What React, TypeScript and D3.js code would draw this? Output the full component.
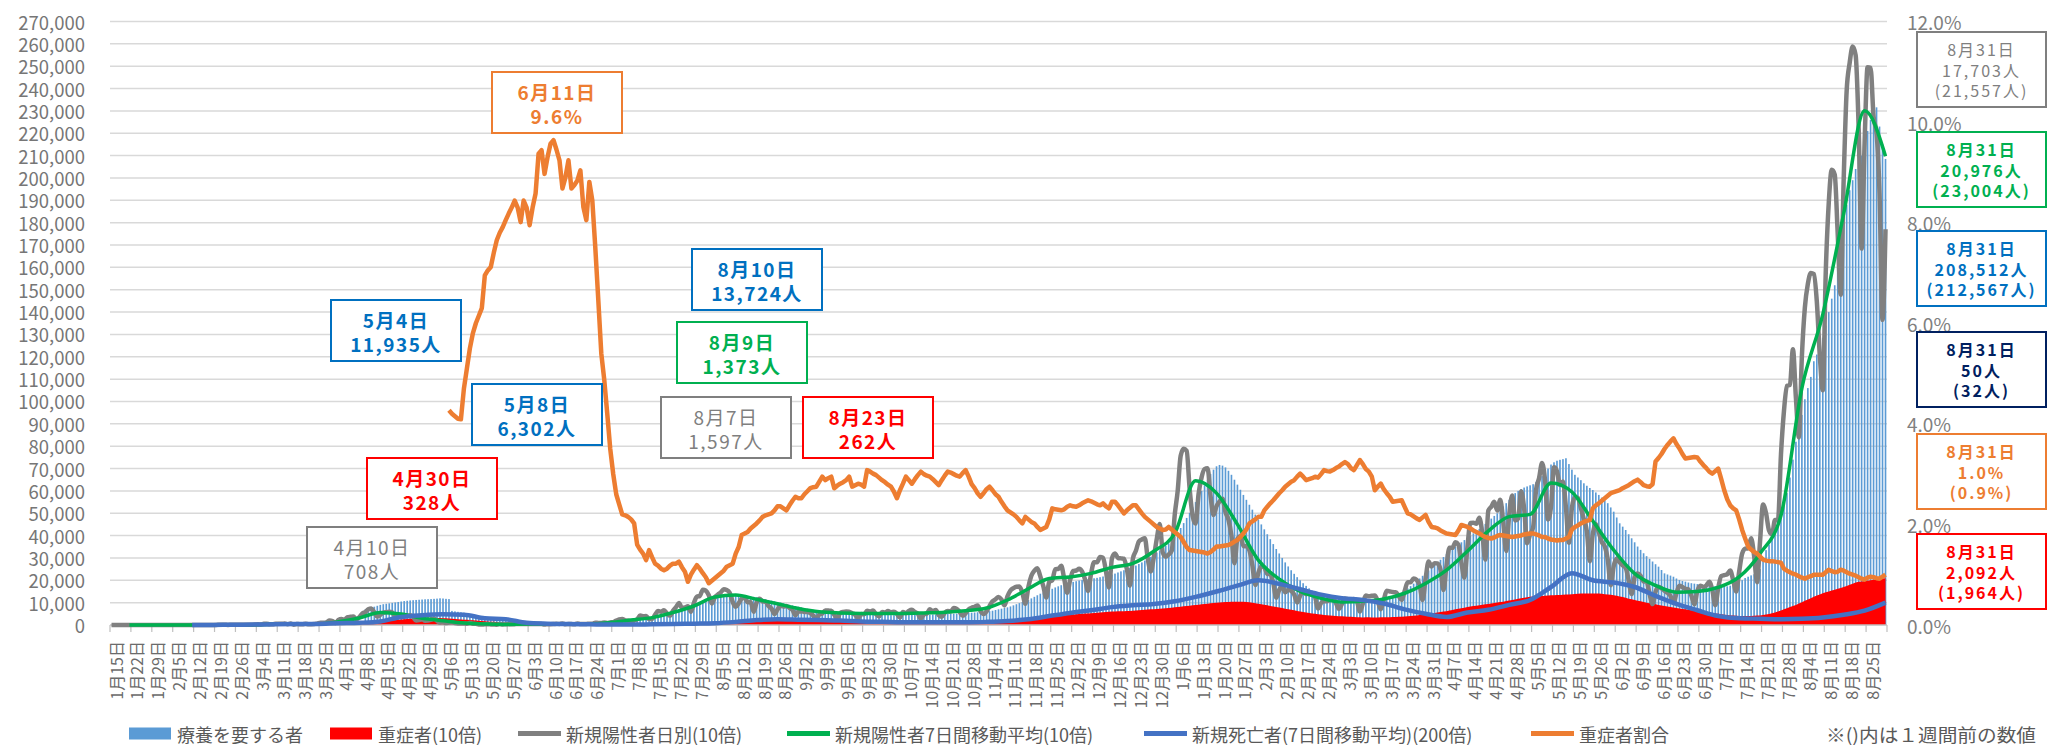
import * as d3 from "d3";

// ---- data ----
const parse = d3.timeParse("%Y-%m-%d");

// daily new positives (actual count, drawn x10), one row per week, Wed..Tue, from 2020-01-15
const newCasesStart = "2020-01-15";
const newCases = [
  [1,0,0,0,1,0,0],[0,1,1,0,0,0,0],[3,2,3,5,0,0,0],[0,0,0,0,0,0,0],[1,4,4,1,3,3,4],
  [3,9,11,9,4,7,10],[11,16,10,13,12,14,17],[33,23,51,57,35,32,52],[54,54,62,38,63,15,44],[37,39,53,34,35,40,71],
  [97,97,123,200,173,87,225],[266,240,350,365,380,252,351],[515,576,708,743,566,375,458],[549,576,590,568,374,386,378],[430,410,436,352,201,216,258],
  [192,197,234,290,183,114,123],[85,110,120,82,66,65,72],[55,100,60,50,25,21,30],[31,26,20,15,43,22,33],[39,30,36,45,42,47,50],
  [41,50,45,42,47,17,37],[37,43,54,47,71,34,44],[41,35,69,48,44,48,58],[55,105,91,92,117,86,116],[131,196,249,270,205,188,170],
  [208,250,430,387,408,264,262],[450,622,590,663,510,420,631],[795,980,768,780,840,595,983],[1264,1301,1580,1536,1331,959,1236],[1357,1453,1597,1566,1441,1032,812],
  [969,1174,1227,1014,1030,588,1004],[1177,1054,1039,845,734,498,694],[863,831,850,765,677,437,600],[607,587,587,535,416,268,473],[514,651,644,641,460,280,545],
  [585,601,598,523,463,299,490],[479,639,602,644,483,381,579],[558,621,570,593,495,332,581],[520,633,680,583,505,287,474],[513,701,611,676,441,371,542],
  [624,603,757,715,586,413,527],[702,773,817,878,614,487,605],[842,1061,1151,1257,1140,874,1277],[1544,1651,1715,1724,1438,953,1698],[2199,2425,2540,2177,1737,1226,1937],
  [1999,2500,2505,2653,2072,1440,2024],[2418,2439,2513,2391,2030,1523,2301],[2812,2812,3041,3009,2389,1678,2988],[3203,2998,2980,2963,2482,1757,2972],[3319,3734,3828,3880,2944,2395,3030],
  [3852,4520,3243,3059,3158,3325,4916],[6001,7570,7882,7790,6095,4875,4538],[5866,6605,6970,7012,5768,4925,5320],[5526,5652,5046,4714,3990,2763,3852],[3971,3534,3520,3344,2673,1792,2324],
  [2631,2576,2289,2268,1891,1220,1569],[1718,1464,1575,1531,1361,1010,1308],[1523,1380,1412,1376,1236,740,981],[1063,1064,1126,1181,980,718,944],[1182,1151,1118,1162,1066,600,960],
  [1316,1289,1307,1320,1065,700,1123],[1532,1501,1471,1469,1302,1116,1519],[1918,1915,2083,2017,1785,1116,2067],[2843,2616,2761,2757,2471,1571,2651],[3453,3451,3697,3591,2779,2120,3455],
  [4568,4573,4532,4802,4093,2925,5113],[5292,5513,5120,5606,4608,3314,4929],[5791,4677,4761,5979,5211,3659,4052],[4361,6054,6567,7244,6472,4725,5290],[7057,6878,6266,6419,5247,3683,5249],
  [5711,5686,5228,4724,4193,2852,4088],[4521,4143,3713,3517,2933,1780,2635],[2960,2795,2668,2552,2005,1381,2133],[2304,2194,1946,1935,1389,934,1486],[1710,1638,1534,1439,1307,981,1424],
  [1755,1703,1618,1597,1313,928,1525],[1754,1705,1767,1932,1576,889,1668],[2185,2230,2270,2442,2005,1497,2387],[3194,3418,3434,3878,3100,1916,3758],[5396,5000,4225,4047,4702,4692,7629],
  [9576,10699,10743,12341,10168,8392,12016],[14207,15263,15753,15699,14472,12061,10500],[15812,18889,20366,20151,17492,14778,19955],[23917,25151,25876,25492,22285,16842,21557],[24956,24929,22748,22000,19296,13653,17703],
];

// people requiring treatment (bars), weekly rows from 2020-04-08
const careStart = "2020-04-08";
const care = [
  [null,7000,7400,7800,8200,8600,9000],[9300,9500,9700,9900,10100,10300,10500],[10700,10850,11000,11100,11200,11300,11400],[11500,11550,11600,11700,11800,11935,11850],
  [11700,11600,6302,6100,5900,5700,5500],[5200,4900,4600,4300,4000,3700,3400],[3200,3000,2800,2600,2400,2300,2200],[2100,2000,1900,1800,1700,1600,1500],
  [1450,1400,1350,1300,1250,1200,1150],[1100,1050,1000,980,960,940,920],[900,890,880,880,890,900,910],[950,1000,1050,1100,1150,1200,1250],
  [1350,1450,1600,1750,1900,2000,2100],[2300,2500,2700,3000,3200,3400,3600],[4000,4400,4800,5200,5500,5800,6100],[6600,7100,7500,7900,8300,8600,9000],
  [9500,10000,10500,11000,11400,11800,12200],[12600,12900,13200,13400,13550,13724,13650],[13500,13400,13200,13000,12800,12600,12400],[12100,11800,11500,11200,10900,10600,10300],
  [10000,9700,9400,9100,8800,8500,8200],[7900,7600,7300,7000,6800,6600,6400],[6200,6000,5900,5800,5700,5600,5500],[5400,5300,5200,5100,5000,4950,4900],
  [4850,4800,4750,4700,4650,4600,4550],[4500,4450,4400,4400,4400,4400,4400],[4400,4450,4500,4500,4500,4550,4600],[4600,4650,4700,4750,4800,4850,4900],
  [4950,5000,5050,5100,5200,5250,5300],[5400,5500,5600,5700,5800,5900,6000],[6200,6400,6700,7000,7300,7600,7900],[8300,8800,9300,9800,10300,10700,11200],
  [11900,12600,13300,14000,14600,15100,15600],[16200,16800,17300,17800,18200,18600,19000],[19300,19600,19900,20100,20300,20500,20700],[20900,21100,21400,21700,22000,22300,22600],
  [23000,23500,24000,24500,25000,25500,26000],[26600,27300,28000,28800,29600,30500,31400],[32400,33400,34400,35400,36500,37900,39500],[41400,43400,45600,47900,50200,52600,55000],
  [57500,60000,62500,65000,67500,69500,71000],[71600,71300,70500,69000,67200,65000,62800],[60500,58200,56000,53800,51600,49400,47200],[45000,42800,40600,38400,36200,34000,32000],
  [30000,28000,26200,24500,22900,21400,20000],[18700,17500,16400,15400,14600,13900,13300],[12800,12400,12000,11700,11400,11200,11000],[10800,10700,10600,10500,10400,10400,10400],
  [10400,10500,10600,10700,10800,11000,11200],[11500,11900,12400,13000,13700,14500,15400],[16400,17400,18500,19600,20800,22000,23200],[24400,25600,26800,28000,29200,30400,31700],
  [33000,34000,35000,36000,37000,38000,39000],[40000,41000,42000,43000,44000,45200,46400],[47600,48800,50000,51500,53000,54500,56000],[57500,59000,60000,60800,61500,62000,62500],
  [63000,64000,65200,66600,68200,70000,71800],[72800,73500,73900,74200,74600,72000,69500],[67200,66000,64800,63400,62300,61300,60400],[59300,58200,57000,55800,54500,52600,50700],
  [48100,45500,44000,42500,40600,38800,37000],[35100,33600,32100,30800,29600,28400,27200],[26100,24600,23100,22600,22100,21600,20800],[20100,19700,19400,19000,18700,18500,18300],
  [18100,17900,17900,17800,17600,17400,17300],[17200,17200,17300,17600,18100,18700,19300],[20100,21000,21600,22200,22700,23100,25000],[29000,33500,36000,38500,41500,45000,50000],
  [54000,59000,66000,74000,82000,88000,94000],[101000,106000,111000,118000,121000,124500,128500],[134000,140000,146000,152000,160000,170000,180000],[188000,194500,199000,204000,207000,210000,212567],
  [221000,226000,230500,231600,223000,215000,208512],
];

// severe cases (actual, drawn x10), weekly rows from 2020-03-25
const severeStart = "2020-03-25";
const severe = [
  [50,55,60,62,65,68,70],[75,80,85,90,95,100,110],[120,130,140,150,160,170,180],[190,200,210,220,230,240,250],[260,270,280,290,300,310,320],
  [325,328,325,320,315,310,305],[300,290,280,270,260,250,240],[230,220,210,200,190,180,170],[160,150,140,130,120,110,100],[95,90,85,80,75,72,70],
  [68,66,64,62,60,58,56],[54,52,50,48,46,45,44],[43,42,41,40,39,38,37],[36,35,35,34,34,33,33],[33,33,34,34,35,35,36],
  [37,38,39,40,41,42,44],[46,48,50,52,55,58,61],[65,69,73,77,82,86,90],[95,100,105,110,115,120,128],[135,145,155,165,175,185,195],
  [205,215,222,228,233,238,243],[248,252,256,259,262,260,258],[255,252,248,244,240,236,232],[228,224,220,216,212,208,204],[200,197,194,191,188,185,182],
  [180,178,176,174,172,170,168],[166,164,162,160,158,156,155],[154,153,152,151,150,149,148],[147,146,145,144,143,142,142],[142,142,143,143,144,145,146],
  [147,148,150,152,154,156,158],[161,164,167,170,174,178,182],[187,193,200,208,216,224,232],[240,250,260,270,280,290,300],[310,320,330,340,350,360,372],
  [384,396,408,420,432,444,456],[468,480,490,500,510,520,530],[540,550,560,570,580,590,600],[605,610,615,620,625,630,640],[650,660,670,680,690,700,710],
  [720,730,740,750,760,775,790],[805,820,835,850,865,880,895],[910,925,940,955,970,985,1000],[1010,1020,1025,1030,1035,1040,1043],[1043,1040,1030,1015,995,975,955],
  [930,905,880,855,830,805,780],[755,730,705,680,655,630,605],[580,560,540,520,500,480,465],[450,438,426,415,405,396,388],[380,372,365,358,352,346,340],
  [345,342,340,340,341,342,344],[347,350,355,360,365,370,380],[390,400,415,430,445,460,480],[500,520,540,560,580,600,620],[650,675,700,725,750,775,800],
  [825,845,865,885,905,925,945],[965,985,1005,1025,1045,1070,1095],[1120,1145,1170,1195,1220,1240,1260],[1270,1280,1290,1300,1310,1320,1330],[1335,1340,1345,1350,1360,1370,1380],
  [1390,1400,1405,1410,1413,1413,1413],[1413,1405,1395,1380,1365,1350,1335],[1310,1280,1250,1215,1180,1150,1120],[1090,1060,1030,1000,975,950,925],[900,875,850,825,800,780,760],
  [740,720,700,680,660,640,620],[600,580,560,545,530,515,500],[480,460,445,430,420,410,405],[400,400,400,405,410,420,430],[450,470,495,525,560,600,650],
  [700,750,800,850,900,960,1020],[1080,1140,1200,1260,1320,1370,1420],[1460,1500,1540,1580,1620,1660,1700],[1750,1800,1850,1900,1935,1950,1964],[1980,2000,2020,2040,2060,2075,2092],
];

// 7-day average of new positives (actual, drawn x10), every Tuesday from 2020-01-21
const avg7Start = "2020-01-21";
const avg7 = [
  0.3,0.6,1.5,0.5,3,8,13,40,47,44,143,315,561,489,301,190,86,49,27,41,40,47,49,110,220,330,560,850,1250,1340,
  1150,950,740,590,540,520,520,520,540,570,640,760,1120,1620,2080,2150,2310,2580,2760,3300,4100,6450,5900,4500,2900,2050,1500,1200,1030,1060,
  1160,1420,1860,2450,3300,4200,4850,4950,6350,5950,4650,3350,2300,1770,1470,1500,1680,2150,3200,4900,10600,13900,18400,23004,20976,
];

// new deaths, 7-day average (actual, drawn x200), every Tuesday from 2020-02-11
const deathsStart = "2020-02-11";
const deaths = [
  0,0.2,0.5,1,1.5,2,2.5,4,5,8,18,22,24,23,15,13,5,3,2,1.5,1,1,1.5,2,3,4,7,11,13,12,
  11,10,8,7,6,6,6,6,7,9,13,20,27,33,40,44,47,53,63,75,88,100,92,80,68,60,56,48,35,25,
  18,28,34,45,56,85,116,100,95,85,65,47,33,20,15,14,13,14,17,23,32,50,
];

// severe-case ratio in %, weekly rows from 2020-05-06
const ratioStart = "2020-05-06";
const ratio = [
  [null,4.27,4.2,4.15,4.1,4.09,4.7],[5.1,5.5,5.8,6.0,6.15,6.3,6.95],[7.05,7.12,7.4,7.65,7.8,7.91,8.05],[8.18,8.3,8.44,8.3,8.01,8.44,8.3],
  [7.95,8.3,8.58,9.37,9.44,8.97,9.3],[9.57,9.64,9.45,9.24,8.68,8.9,9.24],[8.68,8.75,8.84,9.04,8.31,8.05,8.81],[8.44,7.5,6.46,5.4,4.87,4.2,3.5],
  [3.0,2.6,2.4,2.2,2.18,2.15,2.1],[2.02,1.6,1.5,1.42,1.29,1.49,1.35],[1.22,1.18,1.12,1.09,1.12,1.18,1.22],[1.22,1.26,1.15,1.06,0.86,1.0,1.1],
  [1.19,1.12,1.03,0.95,0.83,0.88,0.93],[0.98,1.03,1.08,1.16,1.19,1.22,1.42],[1.55,1.79,1.82,1.85,1.92,1.97,2.02],[2.08,2.15,2.18,2.2,2.22,2.28,2.36],
  [2.36,2.32,2.28,2.38,2.47,2.55,2.52],[2.52,2.6,2.66,2.72,2.74,2.75,2.85],[2.95,2.88,2.92,2.95,2.72,2.77,2.81],[2.84,2.88,2.95,2.75,2.78,2.81,2.79],
  [2.75,3.08,3.05,3.01,2.98,2.93,2.88],[2.84,2.79,2.75,2.65,2.52,2.68,2.81],[2.95,2.88,2.81,2.9,2.98,3.05,3.0],[2.97,2.95,2.9,2.84,2.78,2.88,2.97],
  [3.05,3.03,3.0,2.97,2.95,3.02,3.08],[2.95,2.8,2.72,2.62,2.55,2.62,2.7],[2.75,2.68,2.6,2.55,2.45,2.36,2.28],[2.24,2.2,2.15,2.08,2.02,2.15,2.1],
  [2.05,2.02,1.95,1.89,1.92,1.95,2.1],[2.32,2.3,2.29,2.28,2.3,2.35,2.38],[2.36,2.35,2.38,2.42,2.45,2.48,2.46],[2.43,2.4,2.38,2.42,2.36,2.32,2.45],
  [2.45,2.38,2.3,2.22,2.28,2.33,2.38],[2.38,2.3,2.22,2.15,2.1,2.05,2.0],[1.95,1.92,1.89,1.9,1.95,1.9,1.85],[1.8,1.75,1.65,1.55,1.49,1.48,1.47],
  [1.46,1.45,1.44,1.42,1.45,1.5,1.56],[1.56,1.57,1.58,1.59,1.62,1.66,1.69],[1.75,1.82,1.9,2.02,2.06,2.1,2.15],[2.15,2.28,2.35,2.42,2.48,2.55,2.62],
  [2.68,2.75,2.8,2.85,2.88,2.95,3.01],[2.95,2.88,2.9,2.92,2.95,2.93,3.0],[3.08,3.06,3.05,3.08,3.12,3.15,3.2],[3.24,3.2,3.12,3.08,3.18,3.28,3.2],
  [3.1,3.05,2.95,2.68,2.75,2.81,2.7],[2.62,2.55,2.45,2.46,2.47,2.48,2.35],[2.22,2.2,2.16,2.12,2.09,2.14,2.19],[2.05,1.95,1.94,1.92,1.88,1.85,1.82],
  [1.81,1.8,1.79,1.88,1.99,1.97,1.95],[1.92,1.88,1.85,1.82,1.78,1.75,1.73],[1.72,1.74,1.77,1.79,1.78,1.77,1.76],[1.75,1.76,1.77,1.78,1.8,1.81,1.82],
  [1.82,1.8,1.78,1.75,1.75,1.72,1.7],[1.69,1.68,1.69,1.69,1.72,1.75,1.9],[1.95,1.98,2.02,2.05,2.07,2.09,2.32],[2.38,2.42,2.47,2.52,2.57,2.62,2.64],
  [2.66,2.68,2.72,2.75,2.78,2.82,2.86],[2.89,2.84,2.78,2.76,2.75,2.8,3.25],[3.32,3.4,3.5,3.58,3.65,3.71,3.6],[3.51,3.4,3.31,3.32,3.33,3.34,3.33],
  [3.25,3.18,3.12,3.05,3.01,3.06,3.11],[2.9,2.68,2.5,2.38,2.32,2.28,2.1],[1.89,1.72,1.56,1.5,1.45,1.42,1.36],[1.3,1.28,1.27,1.27,1.26,1.25,1.24],
  [1.12,1.08,1.05,1.02,1.0,0.97,0.94],[0.92,0.95,0.97,1.0,1.0,1.0,1.0],[1.05,1.1,1.07,1.05,1.06,1.1,1.08],[1.05,1.02,1.0,0.98,0.95,0.92,0.9],
  [0.94,0.96,0.95,0.93,0.92,0.96,1.0],
];

// callouts
const peakNotes = [
  ["6月11日", "9.6%", "#ED7D31"],
  ["5月4日", "11,935人", "#0070C0"],
  ["8月10日", "13,724人", "#0070C0"],
  ["8月9日", "1,373人", "#00B050"],
  ["5月8日", "6,302人", "#0070C0"],
  ["8月7日", "1,597人", "#7F7F7F"],
  ["8月23日", "262人", "#FF0000"],
  ["4月30日", "328人", "#FF0000"],
  ["4月10日", "708人", "#7F7F7F"],
];
const latestNotes = [
  ["8月31日", "17,703人", "(21,557人)", "#7F7F7F"],
  ["8月31日", "20,976人", "(23,004人)", "#00B050"],
  ["8月31日", "208,512人", "(212,567人)", "#0070C0"],
  ["8月31日", "50人", "(32人)", "#002060"],
  ["8月31日", "1.0%", "(0.9%)", "#ED7D31"],
  ["8月31日", "2,092人", "(1,964人)", "#FF0000"],
];
const legendNames = [
  "療養を要する者", "重症者(10倍)", "新規陽性者日別(10倍)",
  "新規陽性者7日間移動平均(10倍)", "新規死亡者(7日間移動平均)(200倍)", "重症者割合",
];
const footNote = "※()内は１週間前の数値";

// ---- layout ----
const W = 2047, H = 745;
const left = 110, right = 1887, top = 21.5, base = 625;
const FONT = "'Noto Sans CJK JP', 'Noto Sans', sans-serif";
const COL = { care: "#5B9BD5", severe: "#FF0000", cases: "#808080", avg: "#00B050", deaths: "#4472C4", ratio: "#ED7D31" };

const axisStart = parse("2020-01-15") as Date;
const axisEnd = parse("2021-09-01") as Date;
const x = d3.scaleTime().domain([axisStart, axisEnd]).range([left, right]);
const dayW = (right - left) / d3.timeDay.count(axisStart, axisEnd);
const xc = (d: Date) => x(d) + dayW / 2;
const yL = d3.scaleLinear().domain([0, 270000]).range([base, top]);
const yR = d3.scaleLinear().domain([0, 12]).range([base, top]);

type Pt = { date: Date; v: number | null };
const daily = (start: string, rows: (number | null)[][]): Pt[] =>
  rows.flat().map((v, i) => ({ date: d3.timeDay.offset(parse(start) as Date, i), v }));
const weekly = (start: string, vals: number[]): Pt[] =>
  vals.map((v, i) => ({ date: d3.timeDay.offset(parse(start) as Date, i * 7), v }));

const casesPts = daily(newCasesStart, newCases);
const carePts = daily(careStart, care).filter((d) => d.v != null);
const severePts = daily(severeStart, severe);
const avgPts = weekly(avg7Start, avg7);
const deathPts = weekly(deathsStart, deaths);
const ratioPts = daily(ratioStart, ratio);

const casesPath = d3.line<Pt>().x((d) => xc(d.date)).y((d) => yL((d.v as number) * 10)).curve(d3.curveMonotoneX)(casesPts);
const avgPath = d3.line<Pt>().x((d) => xc(d.date)).y((d) => yL((d.v as number) * 10)).curve(d3.curveMonotoneX)(avgPts);
const deathPath = d3.line<Pt>().x((d) => xc(d.date)).y((d) => yL((d.v as number) * 200)).curve(d3.curveMonotoneX)(deathPts);
const ratioPath = d3.line<Pt>().defined((d) => d.v != null).x((d) => xc(d.date)).y((d) => yR(d.v as number))(ratioPts);
const severePath = d3.area<Pt>().x((d) => xc(d.date)).y0(base).y1((d) => yL((d.v as number) * 10))(severePts);

const weekTicks = d3.timeDay.range(axisStart, d3.timeDay.offset(axisEnd, 1), 7);
const fmtDay = d3.timeFormat("%-m月%-d日");
const fmtNum = d3.format(",");

const noteBoxes = [[492, 72], [331, 300], [692, 249], [677, 322], [472, 384], [661, 397], [803, 397], [367, 458], [307, 527]];
const latestY = [32, 132, 231, 332, 434, 534];
const legendPos = [129, 330, 518, 787, 1144, 1531];
const legendColors = [COL.care, COL.severe, COL.cases, COL.avg, COL.deaths, COL.ratio];
const legendY = 733.5;

export default function App() {
  const bw = dayW * 0.55;
  return (
    <>
      <style>{`body{margin:0;overflow:hidden}`}</style>
      <svg width={W} height={H} style={{ display: "block" }} fontFamily={FONT}>
        <rect width={W} height={H} fill="#fff" />
        {yL.ticks(27).filter((t) => t > 0).map((t) => (
          <line key={t} x1={left} x2={right} y1={yL(t)} y2={yL(t)} stroke="#D9D9D9" strokeWidth={1.5} />
        ))}
        {yL.ticks(27).map((t) => (
          <text key={t} x={85} y={yL(t)} textAnchor="end" dominantBaseline="central" fontSize={18.5} fill="#767676">
            {fmtNum(t)}
          </text>
        ))}
        {d3.range(0, 12.01, 2).map((t) => (
          <text key={t} x={1907} y={yR(t)} dominantBaseline="central" fontSize={19} fill="#808080">
            {t.toFixed(1)}%
          </text>
        ))}

        {carePts.map((d, i) => (
          <rect key={i} x={x(d.date) + (dayW - bw) / 2} y={yL(d.v as number)} width={bw}
            height={base - yL(d.v as number)} fill={COL.care} />
        ))}
        <path d={severePath ?? ""} fill={COL.severe} />

        <line x1={left} x2={right} y1={base} y2={base} stroke="#BFBFBF" strokeWidth={1.5} />
        {weekTicks.map((d, i) => (
          <line key={i} x1={x(d)} x2={x(d)} y1={base} y2={base + 7} stroke="#BFBFBF" strokeWidth={1.2} />
        ))}
        {weekTicks.filter((d) => d < axisEnd).map((d, i) => (
          <text key={i} transform={`translate(${x(d) + 5.5},641) rotate(-90)`} textAnchor="end"
            dominantBaseline="central" fontSize={16} fill="#6B6B6B">
            {fmtDay(d)}
          </text>
        ))}

        <path d={casesPath ?? ""} fill="none" stroke={COL.cases} strokeWidth={4.5} strokeLinejoin="round" />
        <path d={avgPath ?? ""} fill="none" stroke={COL.avg} strokeWidth={3.5} strokeLinejoin="round" />
        <path d={deathPath ?? ""} fill="none" stroke={COL.deaths} strokeWidth={4.5} strokeLinejoin="round" />
        <path d={ratioPath ?? ""} fill="none" stroke={COL.ratio} strokeWidth={4.5} strokeLinejoin="round" />

        {peakNotes.map(([a, b, c], i) => {
          const [bx, by] = noteBoxes[i];
          const gray = c === "#7F7F7F";
          return (
            <g key={i}>
              <rect x={bx} y={by} width={130} height={61} fill="#fff" stroke={c} strokeWidth={2} />
              {[a, b].map((s, j) => (
                <text key={j} x={bx + 65} y={by + 19 + j * 24} textAnchor="middle" dominantBaseline="central"
                  fontSize={19} letterSpacing={1.5} fill={c} fontWeight={gray ? 400 : 700}>
                  {s}
                </text>
              ))}
            </g>
          );
        })}

        {latestNotes.map(([a, b, c, col], i) => {
          const by = latestY[i];
          const gray = col === "#7F7F7F";
          return (
            <g key={i}>
              <rect x={1917} y={by} width={129} height={75} fill="#fff" stroke={col} strokeWidth={2} />
              {[a, b, c].map((s, j) => (
                <text key={j} x={1981.5} y={by + 17 + j * 20.5} textAnchor="middle" dominantBaseline="central"
                  fontSize={16} letterSpacing={2} fill={col} fontWeight={gray ? 400 : 700}>
                  {s}
                </text>
              ))}
            </g>
          );
        })}

        {legendNames.map((name, i) => {
          const lx = legendPos[i];
          return (
            <g key={i}>
              {i < 2 ? (
                <rect x={lx} y={legendY - 6} width={42} height={12} fill={legendColors[i]} />
              ) : (
                <line x1={lx} x2={lx + 43} y1={legendY} y2={legendY} stroke={legendColors[i]} strokeWidth={5} />
              )}
              <text x={lx + 48} y={legendY} dominantBaseline="central" fontSize={18} fill="#595959">
                {name}
              </text>
            </g>
          );
        })}
        <text x={1826} y={legendY} dominantBaseline="central" fontSize={18} fill="#595959"
          textLength={210} lengthAdjust="spacingAndGlyphs">
          {footNote}
        </text>
      </svg>
    </>
  );
}
